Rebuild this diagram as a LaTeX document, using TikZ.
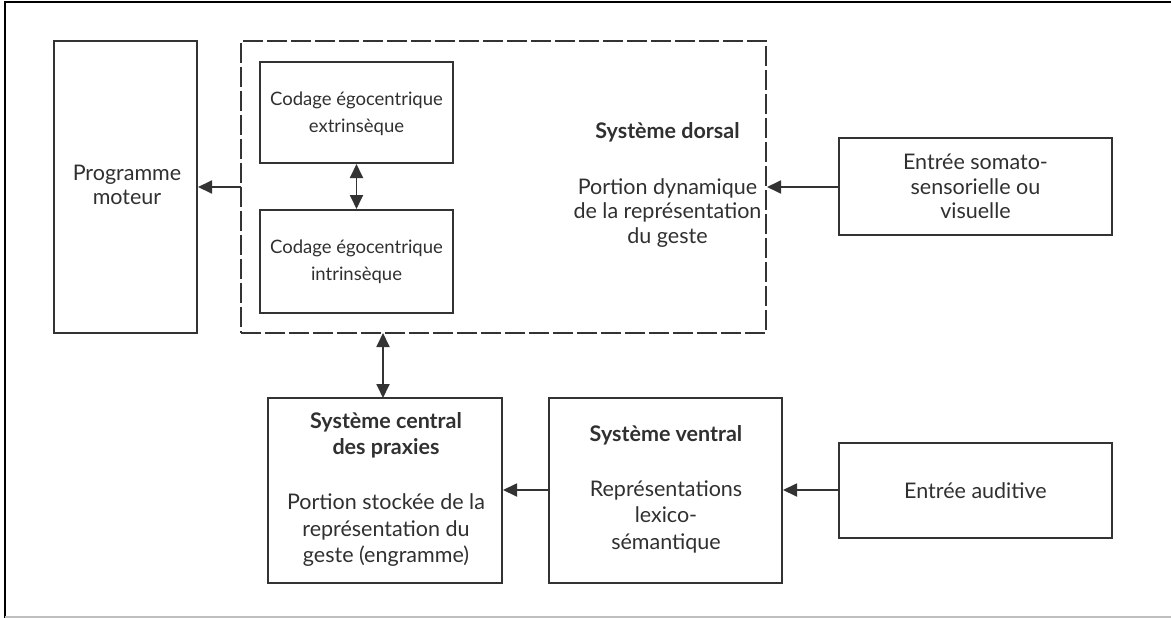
\documentclass[tikz,border=0pt]{standalone}
\usepackage{fontspec}
\setmainfont{Lato}
\usetikzlibrary{arrows.meta}
\definecolor{ln}{HTML}{333333}
\definecolor{tx}{HTML}{303030}
\begin{document}
\begin{tikzpicture}[x=1pt,y=-1pt,
  box/.style={draw=ln,line width=2pt,inner sep=0pt},
  lbl/.style={align=center,text=tx,font=\fontsize{21.5}{26.5}\selectfont,inner sep=0pt},
  dlbl/.style={align=center,text=tx,font=\fontsize{21.5}{24.5}\selectfont,inner sep=0pt},
  slbl/.style={align=center,text=tx,font=\fontsize{18.5}{27}\selectfont,inner sep=0pt},
  tip/.tip={Triangle[length=14pt,width=13pt]},
  arr/.style={draw=ln,line width=1.8pt,-tip},
  darr/.style={draw=ln,line width=1.8pt,tip-tip}]
\useasboundingbox (0,0) rectangle (1171,618);
% outer frame
\draw[black,line width=2pt] (5,618) -- (5,2.5) -- (1171,2.5);
\draw[black!25,line width=1.5pt] (5,617) -- (1171,617);
% boxes
\node[box,minimum width=143pt,minimum height=292pt] (pm) at (125.5,187) {};
\node[dlbl] (pmt) at (127,185) {Programme\\moteur};
\node[draw=ln,line width=2pt,dash pattern=on 20pt off 4pt,minimum width=525pt,minimum height=292pt,inner sep=0pt] (dor) at (503.5,187) {};
\node[box,minimum width=193pt,minimum height=101pt] (ext) at (356.5,112.5) {};
\node[slbl] (extt) at (356.5,114) {Codage égocentrique\\extrinsèque};
\node[box,minimum width=193pt,minimum height=103pt] (int) at (356.5,261.5) {};
\node[slbl] (intt) at (356.5,262) {Codage égocentrique\\intrinsèque};
\node[dlbl] (dort) at (667.5,184.5) {\textbf{Système dorsal}\\[31.5pt]Portion dynamique\\de la représentation\\du geste};
\node[box,minimum width=273pt,minimum height=97pt] (som) at (975.5,186.5) {};
\node[dlbl] (somt) at (975.5,186.5) {Entrée somato-\\sensorielle ou\\visuelle};
\node[box,minimum width=234pt,minimum height=185pt] (cen) at (385,490.5) {};
\node[lbl] (cent) at (386,489.5) {\textbf{Système central}\\\textbf{des praxies}\\[28.5pt]Portion stockée de la\\représentation du\\geste (engramme)};
\node[box,minimum width=233pt,minimum height=185pt] (ven) at (665.5,490.5) {};
\node[lbl] (vent) at (666,489) {\textbf{Système ventral}\\[28.5pt]Représentations\\lexico-\\sémantique};
\node[box,minimum width=273pt,minimum height=95pt] (aud) at (975.5,490.5) {};
\node[lbl] (audt) at (975.5,490.5) {Entrée auditive};
% connectors
\coordinate (l1) at (241,187);
\draw[arr] (l1) -- (pm.east |- l1);
\draw[darr] (ext.south) -- (int.north);
\coordinate (b1) at (383,333);
\coordinate (b2) at (383,398);
\draw[darr] (b1) -- (b2);
\coordinate (s1) at (839,187);
\draw[arr] (s1) -- (dor.east |- s1);
\coordinate (r1) at (549,490);
\draw[arr] (r1) -- (cen.east |- r1);
\draw[arr] (aud.west |- r1) -- (ven.east |- r1);
\end{tikzpicture}
\end{document}
